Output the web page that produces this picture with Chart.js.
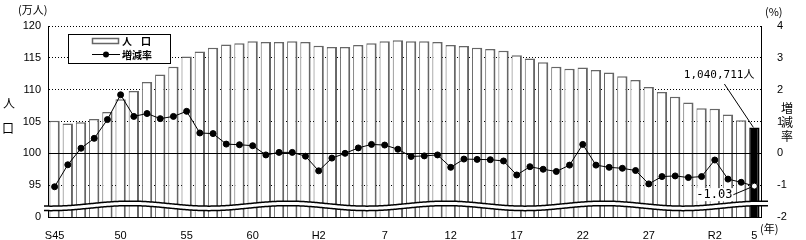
<!DOCTYPE html>
<html lang="ja">
<head>
<meta charset="UTF-8">
<title>人口と増減率</title>
<script src="https://cdn.jsdelivr.net/npm/chart.js@4.4.1/dist/chart.umd.min.js"></script>
<style>
    html, body { margin: 0; padding: 0; background: #fff; }
    .wrap { width: 806px; height: 240px; }
</style>
</head>
<body>
<div class="wrap"><canvas id="chart" width="806" height="240"></canvas></div>
<script>
// 年次 (S45 ～ R5)
const categories = [
    'S45','S46','S47','S48','S49','S50','S51','S52','S53','S54',
    'S55','S56','S57','S58','S59','S60','S61','S62','S63','H1',
    'H2','H3','H4','H5','H6','H7','H8','H9','H10','H11',
    'H12','H13','H14','H15','H16','H17','H18','H19','H20','H21',
    'H22','H23','H24','H25','H26','H27','H28','H29','H30','R1',
    'R2','R3','R4','R5'
];
// 人口 (万人)
const population = [
    105.1, 104.7, 104.9, 105.4, 106.5, 108.5, 109.8, 111.2, 112.4, 113.6,
    115.2, 116.0, 116.6, 117.1, 117.3, 117.6, 117.5, 117.5, 117.6, 117.5,
    116.9, 116.7, 116.7, 117.0, 117.3, 117.6, 117.75, 117.6, 117.6, 117.5,
    117.0, 116.85, 116.6, 116.4, 116.1, 115.4, 114.9, 114.3, 113.6, 113.3,
    113.5, 113.1, 112.7, 112.1, 111.5, 110.4, 109.65, 108.9, 108.0, 107.1,
    107.0, 106.1, 105.2, 104.07
];
// 増減率 (%)
const rates = [
    -1.05, -0.36, 0.16, 0.47, 1.06, 1.84, 1.16, 1.25, 1.09, 1.16,
    1.32, 0.64, 0.62, 0.29, 0.27, 0.24, -0.05, 0.03, 0.03, -0.09,
    -0.55, -0.15, 0.0, 0.17, 0.28, 0.26, 0.13, -0.10, -0.08, -0.05,
    -0.44, -0.18, -0.19, -0.20, -0.24, -0.68, -0.42, -0.50, -0.57, -0.37,
    0.28, -0.37, -0.44, -0.47, -0.54, -0.96, -0.73, -0.71, -0.76, -0.73,
    -0.21, -0.81, -0.91, -1.03
];
const tickAt = ['S45','S50','S55','S60','H2','H7','H12','H17','H22','H27','R2','R5'];
const tickText = ['S45','50','55','60','H2','7','12','17','22','27','R2','5'];

const lastPopLabel = '1,040,711人';
const lastRateLabel = '-1.03';

const FONT = "'Liberation Sans Narrow', 'Liberation Sans', 'Noto Sans CJK JP', sans-serif";
const JP = "'Noto Sans CJK JP', sans-serif";
const last = population.length - 1;

// 波線(省略記号)
function wavePath(ctx, x0, x1, base, back) {
    const pts = [];
    for (let x = x0; x <= x1; x++) {
        pts.push([x, base - 2.5 * Math.cos(2 * Math.PI * (x - 130) / 158)]);
    }
    if (back) pts.reverse();
    return pts;
}

const extras = {
    id: 'extras',
    afterDatasetDraw(chart, args) {
        if (args.meta.type !== 'bar') return;
        const ctx = chart.ctx;
        const area = chart.chartArea;
        const yL = chart.scales.y;
        const yR = chart.scales.y2;
        ctx.save();
        // 0% line
        const y0 = Math.round(yR.getPixelForValue(0)) + 0.5;
        ctx.strokeStyle = '#000';
        ctx.lineWidth = 1;
        ctx.beginPath();
        ctx.moveTo(area.left, y0);
        ctx.lineTo(area.right, y0);
        ctx.stroke();
        // break mark
        const base = yL.getPixelForValue(92.1);
        const top = wavePath(ctx, area.left - 4, area.right + 7, base, false);
        const bot = wavePath(ctx, area.left - 4, area.right + 7, base + 4.5, true);
        ctx.fillStyle = '#fff';
        ctx.beginPath();
        top.concat(bot).forEach((p, i) => i ? ctx.lineTo(p[0], p[1]) : ctx.moveTo(p[0], p[1]));
        ctx.closePath();
        ctx.fill();
        ctx.lineWidth = 1.5;
        [top, bot].forEach(pts => {
            ctx.beginPath();
            pts.forEach((p, i) => i ? ctx.lineTo(p[0], p[1]) : ctx.moveTo(p[0], p[1]));
            ctx.stroke();
        });
        ctx.restore();
    },
    afterDraw(chart) {
        const ctx = chart.ctx;
        const x = chart.scales.x;
        const yL = chart.scales.y;
        const yR = chart.scales.y2;
        ctx.save();
        ctx.fillStyle = '#000';
        ctx.textBaseline = 'middle';

        // units / axis titles
        ctx.font = '11px ' + JP;
        ctx.textAlign = 'left';
        ctx.fillText('(万人)', 18, 10);
        ctx.fillText('(%)', 765, 12);
        ctx.fillText('(年)', 760, 229);
        ctx.font = '12px ' + JP;
        ctx.textAlign = 'center';
        ctx.fillText('人', 9, 103);
        ctx.fillText('口', 8, 128);
        ctx.fillText('増', 787, 108);
        ctx.fillText('減', 787, 122);
        ctx.fillText('率', 787, 136);

        // legend
        ctx.fillStyle = '#fff';
        ctx.fillRect(68.5, 34.5, 102, 29);
        ctx.strokeStyle = '#000';
        ctx.lineWidth = 1;
        ctx.strokeRect(68.5, 34.5, 102, 29);
        ctx.strokeStyle = '#666';
        ctx.lineWidth = 1.5;
        ctx.strokeRect(92.5, 38.5, 26, 5);
        ctx.strokeStyle = '#000';
        ctx.lineWidth = 1;
        ctx.beginPath();
        ctx.moveTo(92, 54.5);
        ctx.lineTo(120, 54.5);
        ctx.stroke();
        ctx.beginPath();
        ctx.arc(106, 54.5, 3, 0, Math.PI * 2);
        ctx.fillStyle = '#000';
        ctx.fill();
        ctx.font = 'bold 10px ' + JP;
        ctx.textAlign = 'left';
        ctx.fillText('人', 122, 41);
        ctx.fillText('口', 141, 41);
        ctx.fillText('増減率', 122, 55);

        // last population annotation
        const bx = x.getPixelForValue(last);
        const by = yL.getPixelForValue(population[last]);
        ctx.beginPath();
        ctx.moveTo(bx - 30, 84);
        ctx.lineTo(bx - 1, by);
        ctx.stroke();
        ctx.font = "11px 'DejaVu Sans Mono', " + JP;
        ctx.textAlign = 'right';
        ctx.fillText(lastPopLabel, bx, 75);

        // last rate annotation
        const py = yR.getPixelForValue(rates[last]);
        ctx.beginPath();
        ctx.moveTo(bx - 22, py + 9);
        ctx.lineTo(bx - 3, py + 1);
        ctx.stroke();
        ctx.fillStyle = '#fff';
        ctx.fillRect(bx - 58, py + 2, 37, 13);
        ctx.fillStyle = '#000';
        ctx.font = "12px 'DejaVu Sans Mono', monospace";
        ctx.textAlign = 'center';
        ctx.fillText(lastRateLabel, bx - 40, py + 9);
        ctx.restore();
    }
};

new Chart(document.getElementById('chart'), {
    type: 'bar',
    data: {
        labels: categories,
        datasets: [{
            type: 'line',
            label: '増減率',
            data: rates,
            yAxisID: 'y2',
            order: 0,
            borderColor: '#000',
            borderWidth: 1,
            pointRadius: 3,
            pointBorderWidth: 1,
            pointBackgroundColor: rates.map((v, i) => i === last ? '#fff' : '#000'),
            pointBorderColor: '#000',
            tension: 0
        }, {
            label: '人口',
            data: population,
            yAxisID: 'y',
            order: 1,
            backgroundColor: population.map((v, i) => i === last ? '#000' : '#fff'),
            borderColor: population.map((v, i) => i === last ? '#000' : '#666'),
            borderWidth: { left: 1, top: 1.5, right: 2, bottom: 0 },
            categoryPercentage: 1,
            barPercentage: 0.78
        }]
    },
    options: {
        responsive: false,
        animation: false,
        layout: { padding: { top: 26, left: 0, right: 0, bottom: 0 } },
        plugins: {
            legend: { display: false },
            title: { display: false },
            tooltip: { enabled: false }
        },
        scales: {
            x: {
                grid: { display: false },
                border: { color: '#000', width: 1 },
                afterFit: s => { s.height = 23; },
                ticks: {
                    autoSkip: false,
                    maxRotation: 0,
                    padding: 4,
                    color: '#000',
                    font: { family: FONT, size: 11 },
                    callback: function (v, i) {
                        const k = tickAt.indexOf(categories[i]);
                        return k >= 0 ? tickText[k] : '';
                    }
                }
            },
            y: {
                position: 'left',
                min: 90,
                max: 120,
                afterFit: s => { s.width = 48; },
                grid: {
                    color: c => c.tick.value === 100 ? 'rgba(0,0,0,0)' : '#000',
                    lineWidth: 1,
                    drawTicks: false
                },
                border: { color: '#000', width: 1, dash: [1, 2] },
                ticks: {
                    stepSize: 5,
                    padding: 7,
                    color: '#000',
                    font: { family: FONT, size: 11 },
                    callback: v => v === 90 ? '0' : v
                }
            },
            y2: {
                position: 'right',
                min: -2,
                max: 4,
                afterFit: s => { s.width = 45; },
                grid: { display: false, drawOnChartArea: false },
                border: { color: '#000', width: 1 },
                ticks: {
                    stepSize: 1,
                    padding: 8,
                    color: '#000',
                    font: { family: FONT, size: 11 },
                    callback: v => v < 0 ? '-' + Math.abs(v) : String(v)
                }
            }
        }
    },
    plugins: [extras]
});
</script>
</body>
</html>
